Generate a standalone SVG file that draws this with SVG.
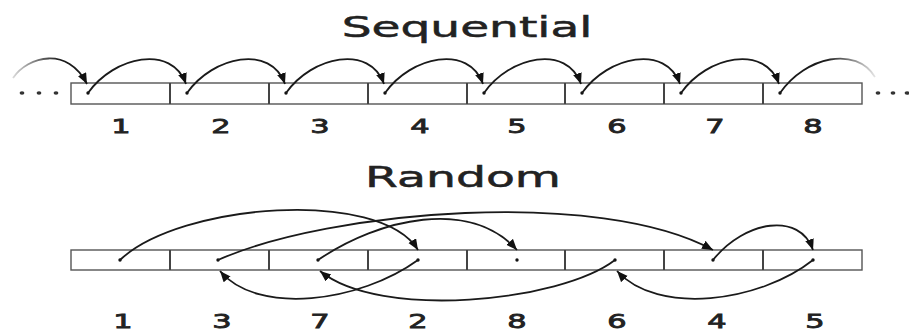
<svg xmlns="http://www.w3.org/2000/svg" width="909" height="332" viewBox="0 0 909 332">
<style>
.cell{fill:#fff;stroke:#555;stroke-width:1.4}
.div{stroke:#444;stroke-width:2}
.arc{fill:none;stroke:#1a1a1a;stroke-width:1.8}
.dot{fill:#111}
.ell{fill:#333}
.title{font-family:"DejaVu Sans",Verdana,sans-serif;font-size:28px;fill:#222;stroke:#222;stroke-width:0.5;text-anchor:middle}
.num{font-family:"DejaVu Sans",Verdana,sans-serif;font-size:19px;fill:#222;stroke:#222;stroke-width:0.8;text-anchor:middle}
</style>
<defs>
<marker id="ah" markerUnits="userSpaceOnUse" markerWidth="12" markerHeight="10" refX="11" refY="4.5" orient="auto">
<path d="M0,0 L11,4.5 L0,9 z" fill="#111"/>
</marker>
<linearGradient id="fadeIn" gradientUnits="userSpaceOnUse" x1="12" y1="0" x2="60" y2="0">
<stop offset="0" stop-color="#ddd"/>
<stop offset="1" stop-color="#1a1a1a"/>
</linearGradient>
<linearGradient id="fadeOut" gradientUnits="userSpaceOnUse" x1="825" y1="0" x2="876" y2="0">
<stop offset="0" stop-color="#1a1a1a"/>
<stop offset="1" stop-color="#e8e8e8"/>
</linearGradient>
</defs>
<rect width="909" height="332" fill="#fff"/>

<g id="title-sequential">
<text class="title" transform="translate(467,37) scale(1.68,1)">Sequential</text>
</g>

<g id="sequential-array">
<rect class="cell" x="71" y="83" width="791" height="21"/>
<line class="div" x1="170" y1="83" x2="170" y2="104"/>
<line class="div" x1="269" y1="83" x2="269" y2="104"/>
<line class="div" x1="368" y1="83" x2="368" y2="104"/>
<line class="div" x1="467" y1="83" x2="467" y2="104"/>
<line class="div" x1="565" y1="83" x2="565" y2="104"/>
<line class="div" x1="664" y1="83" x2="664" y2="104"/>
<line class="div" x1="763" y1="83" x2="763" y2="104"/>
<circle class="dot" cx="88" cy="93" r="1.7"/>
<circle class="dot" cx="187" cy="93" r="1.7"/>
<circle class="dot" cx="286" cy="93" r="1.7"/>
<circle class="dot" cx="385" cy="93" r="1.7"/>
<circle class="dot" cx="484" cy="93" r="1.7"/>
<circle class="dot" cx="582" cy="93" r="1.7"/>
<circle class="dot" cx="681" cy="93" r="1.7"/>
<circle class="dot" cx="780" cy="93" r="1.7"/>
<ellipse class="ell" cx="22" cy="93" rx="2.4" ry="1.8"/>
<ellipse class="ell" cx="39" cy="93" rx="2.4" ry="1.8"/>
<ellipse class="ell" cx="56" cy="93" rx="2.4" ry="1.8"/>
<ellipse class="ell" cx="878" cy="93" rx="2.4" ry="1.8"/>
<ellipse class="ell" cx="893" cy="93" rx="2.4" ry="1.8"/>
<ellipse class="ell" cx="907" cy="93" rx="2.4" ry="1.8"/>
</g>

<g id="sequential-labels">
<text class="num" transform="translate(121,133) scale(1.6,1)">1</text>
<text class="num" transform="translate(221,133) scale(1.6,1)">2</text>
<text class="num" transform="translate(320,133) scale(1.6,1)">3</text>
<text class="num" transform="translate(420,133) scale(1.6,1)">4</text>
<text class="num" transform="translate(517,133) scale(1.6,1)">5</text>
<text class="num" transform="translate(617,133) scale(1.6,1)">6</text>
<text class="num" transform="translate(715,133) scale(1.6,1)">7</text>
<text class="num" transform="translate(813,133) scale(1.6,1)">8</text>
</g>

<g id="sequential-connectors">
<path class="arc" style="stroke:url(#fadeIn)" d="M13,78 C28,56 68,46 87,84" marker-end="url(#ah)"/>
<path class="arc" d="M88,93 C114,56 172,44 186,84" marker-end="url(#ah)"/>
<path class="arc" d="M187,93 C213,56 271,44 285,84" marker-end="url(#ah)"/>
<path class="arc" d="M286,93 C312,56 370,44 384,84" marker-end="url(#ah)"/>
<path class="arc" d="M385,93 C411,56 469,44 483,84" marker-end="url(#ah)"/>
<path class="arc" d="M484,93 C510,56 567,44 581,84" marker-end="url(#ah)"/>
<path class="arc" d="M582,93 C608,56 666,44 680,84" marker-end="url(#ah)"/>
<path class="arc" d="M681,93 C707,56 765,44 779,84" marker-end="url(#ah)"/>
<path class="arc" style="stroke:url(#fadeOut)" d="M780,93 C806,56 856,46 875,77"/>
</g>

<g id="title-random">
<text class="title" transform="translate(463,187) scale(1.69,1)">Random</text>
</g>

<g id="random-array">
<rect class="cell" x="71" y="250" width="791" height="20"/>
<line class="div" x1="170" y1="250" x2="170" y2="270"/>
<line class="div" x1="269" y1="250" x2="269" y2="270"/>
<line class="div" x1="368" y1="250" x2="368" y2="270"/>
<line class="div" x1="467" y1="250" x2="467" y2="270"/>
<line class="div" x1="565" y1="250" x2="565" y2="270"/>
<line class="div" x1="664" y1="250" x2="664" y2="270"/>
<line class="div" x1="763" y1="250" x2="763" y2="270"/>
<circle class="dot" cx="120" cy="260" r="1.7"/>
<circle class="dot" cx="218" cy="260" r="1.7"/>
<circle class="dot" cx="318" cy="260" r="1.7"/>
<circle class="dot" cx="418" cy="260" r="1.7"/>
<circle class="dot" cx="517" cy="260" r="1.7"/>
<circle class="dot" cx="615" cy="260" r="1.7"/>
<circle class="dot" cx="713" cy="260" r="1.7"/>
<circle class="dot" cx="813" cy="260" r="1.7"/>
</g>

<g id="random-labels">
<text class="num" transform="translate(123,328) scale(1.6,1)">1</text>
<text class="num" transform="translate(222,328) scale(1.6,1)">3</text>
<text class="num" transform="translate(320,328) scale(1.6,1)">7</text>
<text class="num" transform="translate(418,328) scale(1.6,1)">2</text>
<text class="num" transform="translate(517,328) scale(1.6,1)">8</text>
<text class="num" transform="translate(617,328) scale(1.6,1)">6</text>
<text class="num" transform="translate(717,328) scale(1.6,1)">4</text>
<text class="num" transform="translate(815,328) scale(1.6,1)">5</text>
</g>

<g id="random-connectors">
<path class="arc" d="M120,260 C180,203 380,188 418,250" marker-end="url(#ah)"/>
<path class="arc" d="M418,260 C360,302 258,316 220,271" marker-end="url(#ah)"/>
<path class="arc" d="M218,260 C330,210 600,188 713,250" marker-end="url(#ah)"/>
<path class="arc" d="M713,260 C745,220 800,212 813,250" marker-end="url(#ah)"/>
<path class="arc" d="M813,260 C760,302 658,316 617,271" marker-end="url(#ah)"/>
<path class="arc" d="M615,260 C560,302 380,320 320,271" marker-end="url(#ah)"/>
<path class="arc" d="M318,260 C380,218 470,198 517,250" marker-end="url(#ah)"/>
</g>
</svg>
